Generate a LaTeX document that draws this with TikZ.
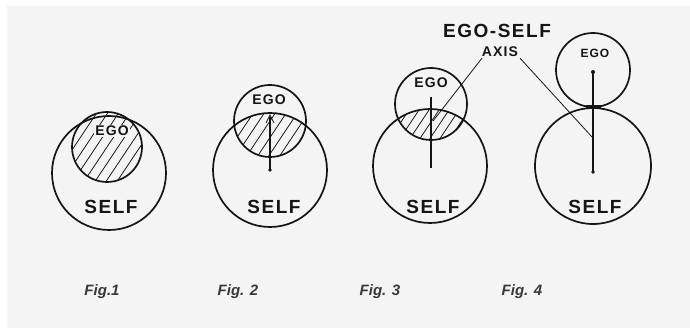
\documentclass[tikz,border=0pt]{standalone}
\usepackage{fontspec}
\setmainfont{Liberation Sans}
\newfontfamily\handfont{Liberation Sans}[LetterSpace=8]
\definecolor{bgc}{HTML}{F4F4F4}
\definecolor{ink}{HTML}{151515}
\tikzset{
  ring/.style={draw=ink, line width=1.7pt},
  hatchline/.style={draw=ink, line width=0.8pt},
  axisline/.style={draw=ink, line width=1.4pt},
  leader/.style={draw=ink, line width=0.8pt},
  egotext/.style={font=\handfont\bfseries\fontsize{14}{14}\selectfont, text=ink, inner sep=0pt},
  selftext/.style={font=\handfont\bfseries\fontsize{19}{19}\selectfont, text=ink, inner sep=0pt},
  bigtext/.style={font=\handfont\bfseries\fontsize{19}{19}\selectfont, text=ink, inner sep=0pt},
  axistext/.style={font=\handfont\bfseries\fontsize{14}{14}\selectfont, text=ink, inner sep=0pt},
  figtext/.style={font=\bfseries\itshape\fontsize{15}{15}\selectfont, text=ink!85, inner sep=0pt},
  dotc/.style={fill=ink}
}
\begin{document}
\begin{tikzpicture}[x=1pt,y=-1pt]
\useasboundingbox (0,0) rectangle (690,328);
\fill[white] (0,0) rectangle (690,328);
\fill[bgc] (7,6) rectangle (690,328);

% ---------- Fig. 1 ----------
\coordinate (s1) at (109,173);
\coordinate (e1) at (107,147);
\begin{scope}
  \clip (e1) circle[radius=35pt];
  \foreach \i in {-88,-77,...,88}
    \draw[hatchline] ([xshift=\i pt-30pt, yshift=-45pt]e1) -- ([xshift=\i pt+30pt, yshift=45pt]e1);
\end{scope}
\draw[ring] (s1) circle[radius=57pt];
\draw[ring] (e1) circle[radius=35pt];
\node[egotext, fill=bgc, inner sep=1pt] (ego1) at (112,131) {EGO};
\node[selftext] (self1) at (111,207) {SELF};
\node[figtext] (fig1) at (102,292) {Fig.1};

% ---------- Fig. 2 ----------
\coordinate (s2) at (270,170);
\coordinate (e2) at (270,121);
\begin{scope}
  \clip (s2) circle[radius=57pt];
  \clip (e2) circle[radius=36pt];
  \foreach \i in {-88,-77,...,88}
    \draw[hatchline] ([xshift=\i pt-30pt, yshift=-45pt]e2) -- ([xshift=\i pt+30pt, yshift=45pt]e2);
\end{scope}
\draw[ring] (s2) circle[radius=57pt];
\draw[ring] (e2) circle[radius=36pt];
\coordinate (a2top) at (270,117);
\coordinate (a2bot) at (270,170);
\draw[axisline] (a2bot) -- (a2top);
\draw[leader] ([xshift=-4pt,yshift=-6pt]a2top) -- ([yshift=2pt]a2top) -- ([xshift=4pt,yshift=-6pt]a2top);
\fill[dotc] (a2bot) circle[radius=1.8pt];
\node[egotext] (ego2) at (269,100) {EGO};
\node[selftext] (self2) at (274,207) {SELF};
\node[figtext] (fig2) at (238,292) {Fig. 2};

% ---------- Fig. 3 ----------
\coordinate (s3) at (430,166);
\coordinate (e3) at (431,104);
\begin{scope}
  \clip (s3) circle[radius=57pt];
  \clip (e3) circle[radius=36pt];
  \foreach \i in {-88,-78,...,88}
    \draw[hatchline] ([xshift=\i pt-30pt, yshift=-45pt]e3) -- ([xshift=\i pt+30pt, yshift=45pt]e3);
\end{scope}
\draw[ring] (s3) circle[radius=57pt];
\draw[ring] (e3) circle[radius=36pt];
\coordinate (a3top) at (431,97);
\coordinate (a3bot) at (431,168);
\coordinate (a3hit) at (433,121);
\draw[axisline] (a3top) -- (a3bot);
\node[egotext] (ego3) at (431,83) {EGO};
\node[selftext] (self3) at (433,207) {SELF};
\node[figtext] (fig3) at (380,292) {Fig. 3};

% ---------- Fig. 4 ----------
\coordinate (s4) at (593,166);
\coordinate (e4) at (593,70);
\draw[ring] (s4) circle[radius=58pt];
\draw[ring] (e4) circle[radius=37pt];
\coordinate (a4top) at (593,72);
\coordinate (a4bot) at (593,172);
\coordinate (a4hit) at (592,137);
\draw[axisline] (a4top) -- (a4bot);
\fill[dotc] (a4top) circle[radius=2pt];
\fill[dotc] (a4bot) circle[radius=1.8pt];
\fill[ink] (586,105.5) rectangle (601,109);
\node[egotext, font=\handfont\bfseries\fontsize{12}{12}\selectfont] (ego4) at (595,53) {EGO};
\node[selftext] (self4) at (595,207) {SELF};
\node[figtext] (fig4) at (522,292) {Fig. 4};

% ---------- Axis label ----------
\node[bigtext] (egoself) at (497,31) {EGO-SELF};
\node[axistext] (axis) at (500,52) {AXIS};
\draw[leader] ([xshift=-18pt,yshift=-1pt]axis.south) -- (a3hit);
\draw[leader] ([xshift=20pt,yshift=-1pt]axis.south) -- (a4hit);
\end{tikzpicture}
\end{document}
